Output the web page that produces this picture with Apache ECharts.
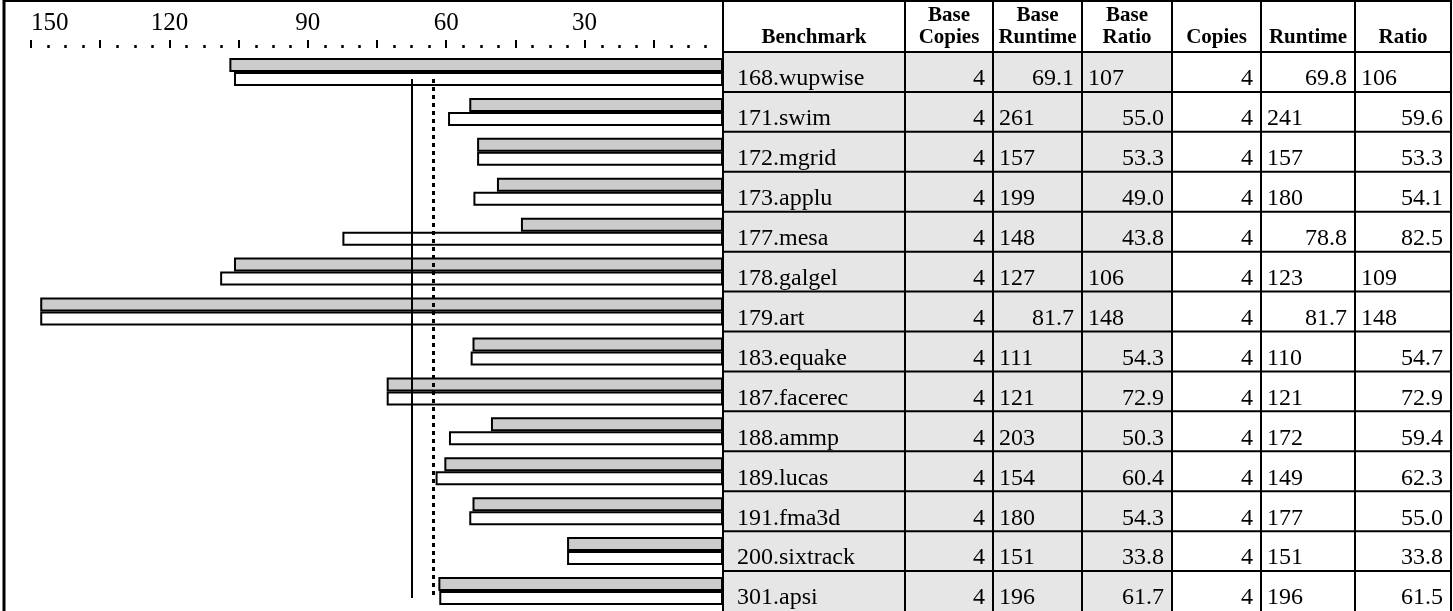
<!DOCTYPE html>
<html>
<head>
<meta charset="utf-8">
<script src="https://cdn.jsdelivr.net/npm/echarts@6/dist/echarts.min.js"></script>
<style>
html,body{margin:0;padding:0;background:#fff;}
#c{width:1453px;height:611px;}
</style>
</head>
<body>
<div id="c"></div>
<script>
// ---- data ----
const benchmarks = ['168.wupwise','171.swim','172.mgrid','173.applu','177.mesa','178.galgel','179.art','183.equake','187.facerec','188.ammp','189.lucas','191.fma3d','200.sixtrack','301.apsi'];
const baseCopies = [4,4,4,4,4,4,4,4,4,4,4,4,4,4];
const baseRuntime = [69.1,261,157,199,148,127,81.7,111,121,203,154,180,151,196];
const baseRatio = [107,55.0,53.3,49.0,43.8,106,148,54.3,72.9,50.3,60.4,54.3,33.8,61.7];
const peakCopies = [4,4,4,4,4,4,4,4,4,4,4,4,4,4];
const peakRuntime = [69.8,241,157,180,78.8,123,81.7,110,121,172,149,177,151,196];
const peakRatio = [106,59.6,53.3,54.1,82.5,109,148,54.7,72.9,59.4,62.3,55.0,33.8,61.5];
const baseMean = 62.7;   // dotted line
const peakMean = 67.5;   // solid line
const headers = ['Benchmark','Base\nCopies','Base\nRuntime','Base\nRatio','Copies','Runtime','Ratio'];
const axisMax = 150, axisStep = 15, labelStep = 30;

// ---- layout ----
const FONT = '"Liberation Serif","Times New Roman",serif';
const colX = [723,905,993,1082,1172,1261,1355,1451];
const headerBottom = 52;

const chart = echarts.init(document.getElementById('c'), null, {renderer:'canvas'});

const fmt = v => v >= 100 ? String(Math.round(v)) : v.toFixed(1);

chart.setOption({
  animation: false,
  grid: {left: 31, right: 1453 - 723, top: headerBottom, height: 560},
  xAxis: {
    type: 'value', inverse: true, min: 0, max: axisMax, interval: axisStep,
    position: 'top', offset: 4,
    axisLine: {show: false},
    splitLine: {show: false},
    axisTick: {show: true, length: 8, lineStyle: {color: '#000', width: 2}},
    minorTick: {show: true, splitNumber: 4, length: 3, lineStyle: {color: '#000', width: 2.5}},
    axisLabel: {
      show: true, margin: 12, fontFamily: FONT, fontSize: 25, color: '#000',
      alignMaxLabel: 'left',
      formatter: v => (v > 0 && v % labelStep === 0) ? String(v) : ''
    }
  },
  yAxis: {type: 'category', inverse: true, data: benchmarks, show: false},
  series: [
    {
      type: 'bar', name: 'Base Ratio', data: baseRatio, barWidth: 14, barGap: '0%',
      itemStyle: {color: '#cccccc', borderColor: '#000', borderWidth: 2}
    },
    {
      type: 'bar', name: 'Ratio', data: peakRatio, barWidth: 14, barGap: '0%',
      itemStyle: {color: '#ffffff', borderColor: '#000', borderWidth: 2},
      markLine: {
        silent: true, symbol: ['none','none'], label: {show: false},
        data: [
          [{coord: [peakMean, benchmarks[0]], lineStyle: {type: 'solid', width: 2, color: '#000'}},
           {coord: [peakMean, benchmarks[benchmarks.length-1]]}],
          [{coord: [baseMean, benchmarks[0]], lineStyle: {type: [4,4], width: 3, color: '#000'}},
           {coord: [baseMean, benchmarks[benchmarks.length-1]]}]
        ]
      }
    }
  ]
});

// ---- table, rows tied to category axis ----
const c0 = chart.convertToPixel({yAxisIndex: 0}, 0);
const c1 = chart.convertToPixel({yAxisIndex: 0}, 1);
const rowH = c1 - c0;
const g = [];
const H = 611;
benchmarks.forEach((b, i) => {
  const cy = chart.convertToPixel({yAxisIndex: 0}, i);
  const top = cy - rowH / 2;
  g.push({type: 'rect', z: 1, shape: {x: colX[0], y: top, width: colX[4] - colX[0], height: rowH}, style: {fill: '#e6e6e6'}});
  g.push({type: 'line', z: 10, shape: {x1: colX[0], y1: top, x2: colX[7], y2: top}, style: {stroke: '#000', lineWidth: 2}});
  const ty = top + 27;
  const cells = [
    {t: b, kind: 'left'},
    {t: String(baseCopies[i]), kind: 'right'},
    {t: fmt(baseRuntime[i]), kind: 'num'},
    {t: fmt(baseRatio[i]), kind: 'num'},
    {t: String(peakCopies[i]), kind: 'right'},
    {t: fmt(peakRuntime[i]), kind: 'num'},
    {t: fmt(peakRatio[i]), kind: 'num'}
  ];
  cells.forEach((cell, j) => {
    let align = cell.kind === 'left' ? 'left' : (cell.kind === 'right' ? 'right' : (cell.t.indexOf('.') >= 0 ? 'right' : 'left'));
    let x = align === 'left' ? colX[j] + (j === 0 ? 14 : 6) : colX[j+1] - 8;
    g.push({type: 'text', z: 11, style: {text: cell.t, x: x, y: ty, fill: '#000', font: '24px ' + FONT, textAlign: align, verticalAlign: 'middle'}});
  });
});
g.push({type: 'line', z: 10, shape: {x1: colX[0], y1: headerBottom, x2: colX[7], y2: headerBottom}, style: {stroke: '#000', lineWidth: 2}});
colX.forEach(x => {
  g.push({type: 'line', z: 10, shape: {x1: x, y1: 0, x2: x, y2: H}, style: {stroke: '#000', lineWidth: 2}});
});
headers.forEach((h, j) => {
  g.push({type: 'text', z: 11, style: {text: h, x: (colX[j] + colX[j+1]) / 2, y: 49, fill: '#000', font: 'bold 21px ' + FONT, lineHeight: 22, textAlign: 'center', verticalAlign: 'bottom'}});
});
g.push({type: 'line', z: 10, shape: {x1: 3, y1: 1, x2: colX[7], y2: 1}, style: {stroke: '#000', lineWidth: 2}});
g.push({type: 'line', z: 10, shape: {x1: 4, y1: 0, x2: 4, y2: H}, style: {stroke: '#000', lineWidth: 3}});

chart.setOption({graphic: {elements: g}});
</script>
</body>
</html>
